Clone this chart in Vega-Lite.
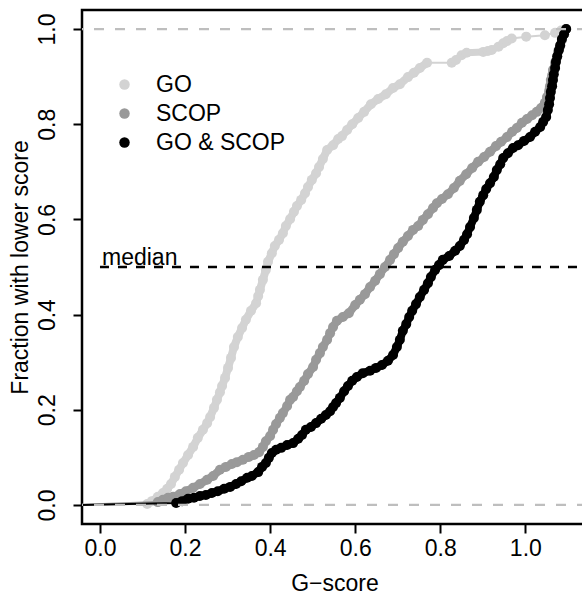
{
  "$schema": "https://vega.github.io/schema/vega-lite/v6.json",
  "autosize": {"type": "none"},
  "padding": {"left": 82, "top": 10, "right": 0, "bottom": 70},
  "width": 505,
  "height": 514,
  "config": {
    "font": "Liberation Sans",
    "view": {"stroke": "#000000", "strokeWidth": 2.5},
    "axis": {"grid": false, "domain": false, "tickColor": "#000000", "tickWidth": 2, "tickSize": 9, "labelFontSize": 23, "labelColor": "#000000", "titleFontSize": 23, "titleFontWeight": "normal", "titleColor": "#000000", "labelFlush": false, "labelOverlap": false, "labelBound": false},
    "line": {"strokeCap": "round", "strokeJoin": "round"}
  },
  "datasets": {
    "curves": [
      {"set": "GO", "g": -0.05, "f": 0},
      {"set": "GO", "g": 0.111, "f": 0.002},
      {"set": "GO", "g": 0.122, "f": 0.008},
      {"set": "GO", "g": 0.136, "f": 0.017},
      {"set": "GO", "g": 0.148, "f": 0.025},
      {"set": "GO", "g": 0.158, "f": 0.034},
      {"set": "GO", "g": 0.167, "f": 0.044},
      {"set": "GO", "g": 0.176, "f": 0.059},
      {"set": "GO", "g": 0.186, "f": 0.074},
      {"set": "GO", "g": 0.195, "f": 0.088},
      {"set": "GO", "g": 0.207, "f": 0.105},
      {"set": "GO", "g": 0.219, "f": 0.122},
      {"set": "GO", "g": 0.230, "f": 0.141},
      {"set": "GO", "g": 0.242, "f": 0.158},
      {"set": "GO", "g": 0.252, "f": 0.172},
      {"set": "GO", "g": 0.259, "f": 0.185},
      {"set": "GO", "g": 0.268, "f": 0.204},
      {"set": "GO", "g": 0.275, "f": 0.221},
      {"set": "GO", "g": 0.282, "f": 0.237},
      {"set": "GO", "g": 0.287, "f": 0.250},
      {"set": "GO", "g": 0.294, "f": 0.267},
      {"set": "GO", "g": 0.301, "f": 0.288},
      {"set": "GO", "g": 0.308, "f": 0.309},
      {"set": "GO", "g": 0.315, "f": 0.332},
      {"set": "GO", "g": 0.324, "f": 0.353},
      {"set": "GO", "g": 0.334, "f": 0.372},
      {"set": "GO", "g": 0.343, "f": 0.389},
      {"set": "GO", "g": 0.355, "f": 0.408},
      {"set": "GO", "g": 0.367, "f": 0.424},
      {"set": "GO", "g": 0.372, "f": 0.439},
      {"set": "GO", "g": 0.376, "f": 0.452},
      {"set": "GO", "g": 0.383, "f": 0.473},
      {"set": "GO", "g": 0.390, "f": 0.494},
      {"set": "GO", "g": 0.395, "f": 0.511},
      {"set": "GO", "g": 0.404, "f": 0.529},
      {"set": "GO", "g": 0.411, "f": 0.544},
      {"set": "GO", "g": 0.421, "f": 0.557},
      {"set": "GO", "g": 0.430, "f": 0.571},
      {"set": "GO", "g": 0.437, "f": 0.586},
      {"set": "GO", "g": 0.447, "f": 0.601},
      {"set": "GO", "g": 0.456, "f": 0.616},
      {"set": "GO", "g": 0.463, "f": 0.628},
      {"set": "GO", "g": 0.473, "f": 0.641},
      {"set": "GO", "g": 0.482, "f": 0.655},
      {"set": "GO", "g": 0.489, "f": 0.668},
      {"set": "GO", "g": 0.498, "f": 0.683},
      {"set": "GO", "g": 0.508, "f": 0.697},
      {"set": "GO", "g": 0.515, "f": 0.710},
      {"set": "GO", "g": 0.524, "f": 0.727},
      {"set": "GO", "g": 0.534, "f": 0.746},
      {"set": "GO", "g": 0.548, "f": 0.756},
      {"set": "GO", "g": 0.560, "f": 0.769},
      {"set": "GO", "g": 0.569, "f": 0.775},
      {"set": "GO", "g": 0.581, "f": 0.788},
      {"set": "GO", "g": 0.593, "f": 0.800},
      {"set": "GO", "g": 0.607, "f": 0.813},
      {"set": "GO", "g": 0.621, "f": 0.826},
      {"set": "GO", "g": 0.637, "f": 0.842},
      {"set": "GO", "g": 0.654, "f": 0.853},
      {"set": "GO", "g": 0.672, "f": 0.863},
      {"set": "GO", "g": 0.689, "f": 0.876},
      {"set": "GO", "g": 0.705, "f": 0.884},
      {"set": "GO", "g": 0.724, "f": 0.899},
      {"set": "GO", "g": 0.738, "f": 0.908},
      {"set": "GO", "g": 0.752, "f": 0.918},
      {"set": "GO", "g": 0.769, "f": 0.929},
      {"set": "GO", "g": 0.827, "f": 0.929},
      {"set": "GO", "g": 0.837, "f": 0.935},
      {"set": "GO", "g": 0.850, "f": 0.945},
      {"set": "GO", "g": 0.862, "f": 0.950},
      {"set": "GO", "g": 0.901, "f": 0.952},
      {"set": "GO", "g": 0.912, "f": 0.954},
      {"set": "GO", "g": 0.921, "f": 0.956},
      {"set": "GO", "g": 0.937, "f": 0.963},
      {"set": "GO", "g": 0.948, "f": 0.970},
      {"set": "GO", "g": 0.957, "f": 0.975},
      {"set": "GO", "g": 0.968, "f": 0.980},
      {"set": "GO", "g": 1.002, "f": 0.984},
      {"set": "GO", "g": 1.046, "f": 0.987},
      {"set": "GO", "g": 1.070, "f": 0.992},
      {"set": "GO", "g": 1.084, "f": 0.997},
      {"set": "GO", "g": 1.096, "f": 1.000},
      {"set": "SCOP", "g": -0.05, "f": 0},
      {"set": "SCOP", "g": 0.136, "f": 0.006},
      {"set": "SCOP", "g": 0.148, "f": 0.011},
      {"set": "SCOP", "g": 0.160, "f": 0.015},
      {"set": "SCOP", "g": 0.172, "f": 0.017},
      {"set": "SCOP", "g": 0.188, "f": 0.023},
      {"set": "SCOP", "g": 0.202, "f": 0.029},
      {"set": "SCOP", "g": 0.219, "f": 0.036},
      {"set": "SCOP", "g": 0.235, "f": 0.044},
      {"set": "SCOP", "g": 0.252, "f": 0.053},
      {"set": "SCOP", "g": 0.266, "f": 0.061},
      {"set": "SCOP", "g": 0.282, "f": 0.074},
      {"set": "SCOP", "g": 0.296, "f": 0.080},
      {"set": "SCOP", "g": 0.310, "f": 0.086},
      {"set": "SCOP", "g": 0.322, "f": 0.090},
      {"set": "SCOP", "g": 0.336, "f": 0.095},
      {"set": "SCOP", "g": 0.350, "f": 0.101},
      {"set": "SCOP", "g": 0.362, "f": 0.105},
      {"set": "SCOP", "g": 0.374, "f": 0.111},
      {"set": "SCOP", "g": 0.383, "f": 0.122},
      {"set": "SCOP", "g": 0.390, "f": 0.134},
      {"set": "SCOP", "g": 0.400, "f": 0.145},
      {"set": "SCOP", "g": 0.407, "f": 0.158},
      {"set": "SCOP", "g": 0.414, "f": 0.170},
      {"set": "SCOP", "g": 0.423, "f": 0.183},
      {"set": "SCOP", "g": 0.430, "f": 0.193},
      {"set": "SCOP", "g": 0.440, "f": 0.208},
      {"set": "SCOP", "g": 0.447, "f": 0.221},
      {"set": "SCOP", "g": 0.454, "f": 0.227},
      {"set": "SCOP", "g": 0.463, "f": 0.239},
      {"set": "SCOP", "g": 0.470, "f": 0.248},
      {"set": "SCOP", "g": 0.480, "f": 0.261},
      {"set": "SCOP", "g": 0.489, "f": 0.275},
      {"set": "SCOP", "g": 0.501, "f": 0.290},
      {"set": "SCOP", "g": 0.508, "f": 0.305},
      {"set": "SCOP", "g": 0.517, "f": 0.319},
      {"set": "SCOP", "g": 0.524, "f": 0.332},
      {"set": "SCOP", "g": 0.534, "f": 0.347},
      {"set": "SCOP", "g": 0.541, "f": 0.361},
      {"set": "SCOP", "g": 0.548, "f": 0.374},
      {"set": "SCOP", "g": 0.557, "f": 0.387},
      {"set": "SCOP", "g": 0.571, "f": 0.395},
      {"set": "SCOP", "g": 0.585, "f": 0.403},
      {"set": "SCOP", "g": 0.600, "f": 0.420},
      {"set": "SCOP", "g": 0.611, "f": 0.431},
      {"set": "SCOP", "g": 0.623, "f": 0.443},
      {"set": "SCOP", "g": 0.635, "f": 0.458},
      {"set": "SCOP", "g": 0.647, "f": 0.471},
      {"set": "SCOP", "g": 0.658, "f": 0.485},
      {"set": "SCOP", "g": 0.670, "f": 0.500},
      {"set": "SCOP", "g": 0.682, "f": 0.515},
      {"set": "SCOP", "g": 0.691, "f": 0.527},
      {"set": "SCOP", "g": 0.701, "f": 0.540},
      {"set": "SCOP", "g": 0.712, "f": 0.553},
      {"set": "SCOP", "g": 0.724, "f": 0.565},
      {"set": "SCOP", "g": 0.736, "f": 0.578},
      {"set": "SCOP", "g": 0.748, "f": 0.586},
      {"set": "SCOP", "g": 0.759, "f": 0.599},
      {"set": "SCOP", "g": 0.771, "f": 0.611},
      {"set": "SCOP", "g": 0.783, "f": 0.624},
      {"set": "SCOP", "g": 0.792, "f": 0.634},
      {"set": "SCOP", "g": 0.804, "f": 0.643},
      {"set": "SCOP", "g": 0.818, "f": 0.653},
      {"set": "SCOP", "g": 0.832, "f": 0.666},
      {"set": "SCOP", "g": 0.846, "f": 0.681},
      {"set": "SCOP", "g": 0.861, "f": 0.695},
      {"set": "SCOP", "g": 0.875, "f": 0.708},
      {"set": "SCOP", "g": 0.889, "f": 0.721},
      {"set": "SCOP", "g": 0.903, "f": 0.731},
      {"set": "SCOP", "g": 0.917, "f": 0.742},
      {"set": "SCOP", "g": 0.931, "f": 0.754},
      {"set": "SCOP", "g": 0.943, "f": 0.763},
      {"set": "SCOP", "g": 0.957, "f": 0.773},
      {"set": "SCOP", "g": 0.969, "f": 0.784},
      {"set": "SCOP", "g": 0.980, "f": 0.792},
      {"set": "SCOP", "g": 0.992, "f": 0.803},
      {"set": "SCOP", "g": 1.004, "f": 0.811},
      {"set": "SCOP", "g": 1.016, "f": 0.819},
      {"set": "SCOP", "g": 1.027, "f": 0.826},
      {"set": "SCOP", "g": 1.037, "f": 0.834},
      {"set": "SCOP", "g": 1.046, "f": 0.845},
      {"set": "SCOP", "g": 1.051, "f": 0.857},
      {"set": "SCOP", "g": 1.056, "f": 0.870},
      {"set": "SCOP", "g": 1.058, "f": 0.880},
      {"set": "SCOP", "g": 1.060, "f": 0.893},
      {"set": "SCOP", "g": 1.063, "f": 0.903},
      {"set": "SCOP", "g": 1.065, "f": 0.914},
      {"set": "SCOP", "g": 1.070, "f": 0.929},
      {"set": "SCOP", "g": 1.075, "f": 0.941},
      {"set": "SCOP", "g": 1.077, "f": 0.952},
      {"set": "SCOP", "g": 1.082, "f": 0.964},
      {"set": "SCOP", "g": 1.086, "f": 0.977},
      {"set": "SCOP", "g": 1.091, "f": 0.989},
      {"set": "SCOP", "g": 1.096, "f": 1.000},
      {"set": "GO & SCOP", "g": -0.05, "f": 0},
      {"set": "GO & SCOP", "g": 0.179, "f": 0.004},
      {"set": "GO & SCOP", "g": 0.193, "f": 0.008},
      {"set": "GO & SCOP", "g": 0.207, "f": 0.013},
      {"set": "GO & SCOP", "g": 0.221, "f": 0.015},
      {"set": "GO & SCOP", "g": 0.235, "f": 0.019},
      {"set": "GO & SCOP", "g": 0.249, "f": 0.021},
      {"set": "GO & SCOP", "g": 0.263, "f": 0.025},
      {"set": "GO & SCOP", "g": 0.277, "f": 0.029},
      {"set": "GO & SCOP", "g": 0.292, "f": 0.034},
      {"set": "GO & SCOP", "g": 0.306, "f": 0.038},
      {"set": "GO & SCOP", "g": 0.320, "f": 0.044},
      {"set": "GO & SCOP", "g": 0.332, "f": 0.050},
      {"set": "GO & SCOP", "g": 0.346, "f": 0.057},
      {"set": "GO & SCOP", "g": 0.357, "f": 0.061},
      {"set": "GO & SCOP", "g": 0.372, "f": 0.069},
      {"set": "GO & SCOP", "g": 0.381, "f": 0.080},
      {"set": "GO & SCOP", "g": 0.390, "f": 0.088},
      {"set": "GO & SCOP", "g": 0.397, "f": 0.099},
      {"set": "GO & SCOP", "g": 0.404, "f": 0.109},
      {"set": "GO & SCOP", "g": 0.414, "f": 0.116},
      {"set": "GO & SCOP", "g": 0.426, "f": 0.120},
      {"set": "GO & SCOP", "g": 0.440, "f": 0.126},
      {"set": "GO & SCOP", "g": 0.454, "f": 0.130},
      {"set": "GO & SCOP", "g": 0.466, "f": 0.139},
      {"set": "GO & SCOP", "g": 0.475, "f": 0.147},
      {"set": "GO & SCOP", "g": 0.484, "f": 0.158},
      {"set": "GO & SCOP", "g": 0.496, "f": 0.164},
      {"set": "GO & SCOP", "g": 0.508, "f": 0.172},
      {"set": "GO & SCOP", "g": 0.520, "f": 0.181},
      {"set": "GO & SCOP", "g": 0.531, "f": 0.189},
      {"set": "GO & SCOP", "g": 0.541, "f": 0.197},
      {"set": "GO & SCOP", "g": 0.548, "f": 0.206},
      {"set": "GO & SCOP", "g": 0.555, "f": 0.214},
      {"set": "GO & SCOP", "g": 0.564, "f": 0.225},
      {"set": "GO & SCOP", "g": 0.574, "f": 0.239},
      {"set": "GO & SCOP", "g": 0.583, "f": 0.250},
      {"set": "GO & SCOP", "g": 0.593, "f": 0.261},
      {"set": "GO & SCOP", "g": 0.604, "f": 0.269},
      {"set": "GO & SCOP", "g": 0.618, "f": 0.277},
      {"set": "GO & SCOP", "g": 0.635, "f": 0.282},
      {"set": "GO & SCOP", "g": 0.649, "f": 0.288},
      {"set": "GO & SCOP", "g": 0.663, "f": 0.294},
      {"set": "GO & SCOP", "g": 0.677, "f": 0.303},
      {"set": "GO & SCOP", "g": 0.689, "f": 0.315},
      {"set": "GO & SCOP", "g": 0.698, "f": 0.332},
      {"set": "GO & SCOP", "g": 0.705, "f": 0.347},
      {"set": "GO & SCOP", "g": 0.712, "f": 0.366},
      {"set": "GO & SCOP", "g": 0.720, "f": 0.380},
      {"set": "GO & SCOP", "g": 0.727, "f": 0.395},
      {"set": "GO & SCOP", "g": 0.734, "f": 0.408},
      {"set": "GO & SCOP", "g": 0.743, "f": 0.422},
      {"set": "GO & SCOP", "g": 0.752, "f": 0.437},
      {"set": "GO & SCOP", "g": 0.762, "f": 0.452},
      {"set": "GO & SCOP", "g": 0.771, "f": 0.466},
      {"set": "GO & SCOP", "g": 0.778, "f": 0.479},
      {"set": "GO & SCOP", "g": 0.788, "f": 0.494},
      {"set": "GO & SCOP", "g": 0.797, "f": 0.504},
      {"set": "GO & SCOP", "g": 0.806, "f": 0.515},
      {"set": "GO & SCOP", "g": 0.821, "f": 0.523},
      {"set": "GO & SCOP", "g": 0.835, "f": 0.534},
      {"set": "GO & SCOP", "g": 0.846, "f": 0.544},
      {"set": "GO & SCOP", "g": 0.856, "f": 0.557},
      {"set": "GO & SCOP", "g": 0.863, "f": 0.569},
      {"set": "GO & SCOP", "g": 0.870, "f": 0.584},
      {"set": "GO & SCOP", "g": 0.879, "f": 0.603},
      {"set": "GO & SCOP", "g": 0.886, "f": 0.620},
      {"set": "GO & SCOP", "g": 0.893, "f": 0.637},
      {"set": "GO & SCOP", "g": 0.901, "f": 0.651},
      {"set": "GO & SCOP", "g": 0.908, "f": 0.664},
      {"set": "GO & SCOP", "g": 0.917, "f": 0.676},
      {"set": "GO & SCOP", "g": 0.926, "f": 0.689},
      {"set": "GO & SCOP", "g": 0.933, "f": 0.704},
      {"set": "GO & SCOP", "g": 0.941, "f": 0.716},
      {"set": "GO & SCOP", "g": 0.948, "f": 0.729},
      {"set": "GO & SCOP", "g": 0.959, "f": 0.739},
      {"set": "GO & SCOP", "g": 0.971, "f": 0.750},
      {"set": "GO & SCOP", "g": 0.983, "f": 0.756},
      {"set": "GO & SCOP", "g": 0.997, "f": 0.765},
      {"set": "GO & SCOP", "g": 1.011, "f": 0.773},
      {"set": "GO & SCOP", "g": 1.023, "f": 0.784},
      {"set": "GO & SCOP", "g": 1.035, "f": 0.794},
      {"set": "GO & SCOP", "g": 1.042, "f": 0.805},
      {"set": "GO & SCOP", "g": 1.049, "f": 0.815},
      {"set": "GO & SCOP", "g": 1.053, "f": 0.830},
      {"set": "GO & SCOP", "g": 1.056, "f": 0.842},
      {"set": "GO & SCOP", "g": 1.058, "f": 0.855},
      {"set": "GO & SCOP", "g": 1.060, "f": 0.868},
      {"set": "GO & SCOP", "g": 1.063, "f": 0.880},
      {"set": "GO & SCOP", "g": 1.065, "f": 0.893},
      {"set": "GO & SCOP", "g": 1.067, "f": 0.905},
      {"set": "GO & SCOP", "g": 1.070, "f": 0.918},
      {"set": "GO & SCOP", "g": 1.072, "f": 0.931},
      {"set": "GO & SCOP", "g": 1.075, "f": 0.943},
      {"set": "GO & SCOP", "g": 1.079, "f": 0.956},
      {"set": "GO & SCOP", "g": 1.082, "f": 0.966},
      {"set": "GO & SCOP", "g": 1.086, "f": 0.979},
      {"set": "GO & SCOP", "g": 1.091, "f": 0.989},
      {"set": "GO & SCOP", "g": 1.096, "f": 1.000}
    ],
    "bounds": [{"level": 0}, {"level": 1}],
    "median": [{"g": 0, "g2": 1.3, "f": 0.5, "label": "median"}]
  },
  "encoding": {
    "x": {"field": "g", "type": "quantitative", "scale": {"domain": [-0.0423, 1.145], "nice": false, "zero": false},
      "axis": {"values": [0, 0.2, 0.4, 0.6, 0.8, 1.0], "format": ".1f", "labelPadding": 22, "labelBaseline": "alphabetic", "title": "G−score", "titleBaseline": "alphabetic", "titleAlign": "center", "titleX": 252.5, "titleY": 66}},
    "y": {"field": "f", "type": "quantitative", "scale": {"domain": [-0.04, 1.04], "nice": false, "zero": false},
      "axis": {"values": [0, 0.2, 0.4, 0.6, 0.8, 1.0], "format": ".1f", "labelAngle": -90, "labelAlign": "center", "labelBaseline": "alphabetic", "labelPadding": 19, "title": "Fraction with lower score", "titleAngle": -90, "titleBaseline": "alphabetic", "titleAlign": "center", "titleX": -55, "titleY": 257}}
  },
  "layer": [
    {"data": {"name": "curves"}, "transform": [{"filter": "datum.set === 'GO'"}], "mark": {"type": "line", "color": "#d3d3d3", "strokeWidth": 2, "clip": true}},
    {"data": {"name": "curves"}, "transform": [{"filter": "datum.set === 'GO' && datum.g >= 0 && datum.g <= 0.77"}], "mark": {"type": "line", "color": "#d3d3d3", "strokeWidth": 8}},
    {"data": {"name": "curves"}, "transform": [{"filter": "datum.set === 'GO' && datum.g >= 0.826 && datum.g <= 0.97"}], "mark": {"type": "line", "color": "#d3d3d3", "strokeWidth": 7}},
    {"data": {"name": "curves"}, "transform": [{"filter": "datum.set === 'GO' && datum.g >= 0"}], "mark": {"type": "circle", "size": 100, "opacity": 1},
      "encoding": {"color": {"field": "set", "type": "nominal", "scale": {"domain": ["GO", "SCOP", "GO & SCOP"], "range": ["#d3d3d3", "#999999", "#000000"]},
        "legend": {"orient": "none", "legendX": 31, "legendY": 63, "title": null, "labelFontSize": 23, "labelColor": "#000000", "symbolSize": 110, "symbolType": "circle", "symbolStrokeWidth": 0, "rowPadding": 5, "labelOffset": 20, "padding": 0}}}},
    {"data": {"name": "curves"}, "transform": [{"filter": "datum.set === 'SCOP'"}], "mark": {"type": "line", "color": "#999999", "strokeWidth": 2, "clip": true}},
    {"data": {"name": "curves"}, "transform": [{"filter": "datum.set === 'SCOP' && datum.g >= 0"}], "mark": {"type": "line", "color": "#999999", "strokeWidth": 8}},
    {"data": {"name": "curves"}, "transform": [{"filter": "datum.set === 'SCOP' && datum.g >= 0"}], "mark": {"type": "circle", "size": 100, "opacity": 1},
      "encoding": {"color": {"field": "set", "type": "nominal"}}},
    {"data": {"name": "curves"}, "transform": [{"filter": "datum.set === 'GO & SCOP'"}], "mark": {"type": "line", "color": "#000000", "strokeWidth": 2, "clip": true}},
    {"data": {"name": "curves"}, "transform": [{"filter": "datum.set === 'GO & SCOP' && datum.g >= 0"}], "mark": {"type": "line", "color": "#000000", "strokeWidth": 8}},
    {"data": {"name": "curves"}, "transform": [{"filter": "datum.set === 'GO & SCOP' && datum.g >= 0"}], "mark": {"type": "circle", "size": 100, "opacity": 1},
      "encoding": {"color": {"field": "set", "type": "nominal"}}},
    {"data": {"name": "bounds"}, "mark": {"type": "rule", "color": "#bebebe", "strokeWidth": 2.2, "strokeDash": [10, 11]},
      "encoding": {"x": null, "y": {"field": "level", "type": "quantitative"}}},
    {"data": {"name": "median"}, "mark": {"type": "rule", "color": "#000000", "strokeWidth": 2.3, "strokeDash": [9, 9], "clip": true},
      "encoding": {"x2": {"field": "g2"}}},
    {"data": {"name": "median"}, "mark": {"type": "text", "align": "left", "baseline": "alphabetic", "fontSize": 23, "color": "#000000", "dx": 2, "dy": -2},
      "encoding": {"text": {"field": "label"}}}
  ]
}
